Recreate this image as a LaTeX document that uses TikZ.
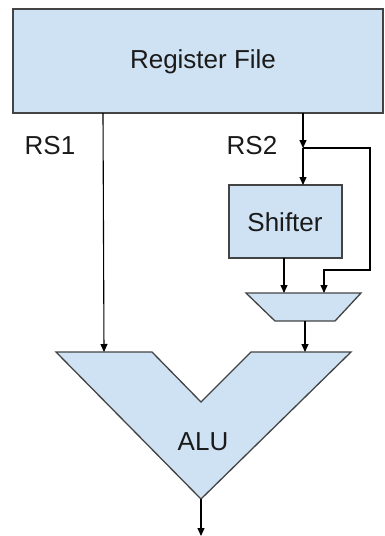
\documentclass[tikz,border=0pt]{standalone}
\usepackage{fontspec}
\setmainfont{Liberation Sans}
\usetikzlibrary{arrows.meta}
\definecolor{boxfill}{HTML}{CFE2F3}
\definecolor{boxline}{HTML}{434343}
\definecolor{txt}{HTML}{1A1A1A}
\tikzset{
  blk/.style={draw=boxline, fill=boxfill, line width=1.3pt},
  lbl/.style={font=\fontsize{26}{30}\selectfont, text=txt, inner sep=0pt},
  wire/.style={draw=black, line width=1.1pt, -{Triangle[length=8pt,width=7pt]}},
}
\begin{document}
\begin{tikzpicture}[x=1pt,y=-1pt]
\useasboundingbox (0,0) rectangle (385,536);
% Register file
\path[blk] (13,9) rectangle (383,113);
\node[lbl] (rf) at (203,62) {Register File};
\coordinate (rf1) at (103,113);
\coordinate (rf2) at (303,113);
% labels
\node[lbl] (rs1) at (50,146) {RS1};
\node[lbl] (rs2) at (252,146) {RS2};
% Shifter
\path[blk] (229,185) rectangle (342,258);
\node[lbl] (sh) at (285,222) {Shifter};
% Mux
\path[blk] (246,293) -- (361,293) -- (335,321) -- (275,321) -- cycle;
% ALU
\path[blk] (56,352) -- (152,352) -- (201,402) -- (251,352) -- (351,352) -- (201,499) -- cycle;
\node[lbl] (alu) at (203,442) {ALU};
% coordinates
\coordinate (j) at (303,148);
\coordinate (shin) at (303,185);
\coordinate (shout) at (284,258);
\coordinate (muxa) at (284,293);
\coordinate (muxb) at (324,293);
\coordinate (muxout) at (305,321);
\coordinate (aluin1) at (104,352);
\coordinate (aluin2) at (305,352);
\coordinate (aluout) at (201,499);
\coordinate (out) at (201,536);
% wires
\draw[wire] (rf1) -- (aluin1);
\draw[wire] (rf2) -- (j);
\draw[wire] (j) -- (shin);
\draw[wire] (j) -- (370,148) -- (370,270) -- (324,270) -- (muxb);
\draw[wire] (shout) -- (muxa);
\draw[wire] (muxout) -- (aluin2);
\draw[wire] (aluout) -- (out);
\end{tikzpicture}
\end{document}
